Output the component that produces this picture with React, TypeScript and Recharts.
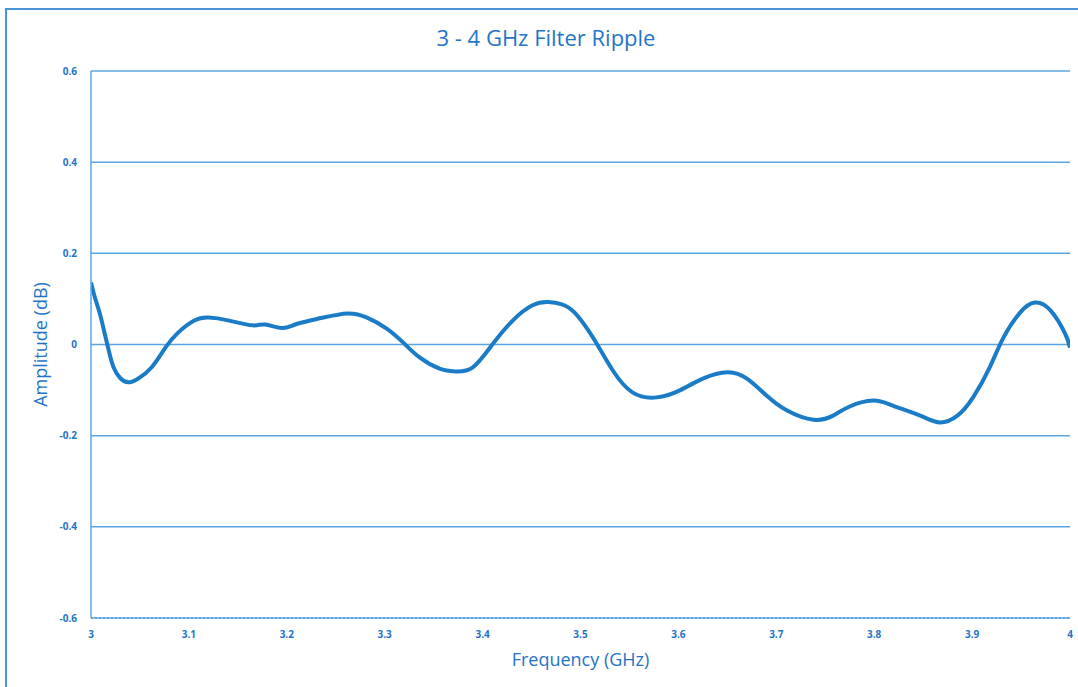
import React from "react";
import { LineChart, Line, XAxis, YAxis, CartesianGrid } from "recharts";

const frequencies = [
  3.0, 3.004, 3.009, 3.014, 3.018, 3.023, 3.03, 3.038, 3.048, 3.062, 3.076, 3.089, 3.106,
  3.12, 3.14, 3.165, 3.178, 3.195, 3.21, 3.235, 3.262, 3.282, 3.302, 3.319, 3.336,
  3.356, 3.372, 3.39, 3.41, 3.431, 3.451, 3.467, 3.481, 3.494, 3.508, 3.519, 3.533,
  3.553, 3.578, 3.602, 3.625, 3.65, 3.67, 3.69, 3.711, 3.738, 3.758, 3.775, 3.799,
  3.819, 3.847, 3.867, 3.885, 3.901, 3.918, 3.932, 3.949, 3.964, 3.98, 3.995, 4.0,
];
const amplitudes = [
  0.136, 0.103, 0.068, 0.024, -0.012, -0.05, -0.074, -0.083, -0.075, -0.05, -0.007, 0.026, 0.053,
  0.059, 0.053, 0.042, 0.044, 0.036, 0.045, 0.058, 0.068, 0.059, 0.035, 0.004, -0.029,
  -0.053, -0.059, -0.05, 0.0, 0.053, 0.086, 0.093, 0.088, 0.07, 0.031, -0.007, -0.057,
  -0.105, -0.116, -0.1, -0.075, -0.061, -0.075, -0.112, -0.145, -0.165, -0.156, -0.136, -0.123,
  -0.134, -0.156, -0.171, -0.156, -0.116, -0.05, 0.015, 0.07, 0.092, 0.075, 0.024, -0.007,
];
const xTicks = [3, 3.1, 3.2, 3.3, 3.4, 3.5, 3.6, 3.7, 3.8, 3.9, 4];
const yTicks = [-0.6, -0.4, -0.2, 0, 0.2, 0.4, 0.6];

const data = frequencies.map((f, i) => ({ f, a: amplitudes[i] }));

const BLUE = "#1f74c8";
const GRID = "#5aa5e2";
const FONT = "'Open Sans', 'Noto Sans', sans-serif";

export default function App() {
  return (
    <div
      style={{
        position: "absolute",
        left: 0,
        top: 0,
        width: 1078,
        height: 687,
        background: "#fff",
        fontFamily: FONT,
        overflow: "hidden",
      }}
    >
      <div
        style={{
          position: "absolute",
          left: 5,
          top: 8,
          width: 1100,
          height: 700,
          borderLeft: "2px solid #4a95da",
          borderTop: "2px solid #4a95da",
        }}
      />
      <div
        style={{
          position: "absolute",
          left: 0,
          width: 1092,
          top: 22,
          textAlign: "center",
          color: BLUE,
          fontSize: 22,
          lineHeight: "30px",
        }}
      >
        3 - 4 GHz Filter Ripple
      </div>
      <div style={{ position: "absolute", left: 0, top: 0 }}>
        <LineChart
          width={1078}
          height={687}
          data={data}
          margin={{ top: 71, right: 8, bottom: 0, left: 0 }}
        >
          <CartesianGrid vertical={false} stroke={GRID} strokeWidth={1.5} />
          <XAxis
            type="number"
            dataKey="f"
            domain={[3, 4]}
            ticks={xTicks}
            allowDataOverflow
            height={69}
            tickSize={0}
            tickMargin={13}
            tickFormatter={(v: number) => String(v)}
            axisLine={{ stroke: GRID, strokeWidth: 2, strokeDasharray: "2 2" }}
            tick={{ fill: BLUE, fontSize: 10, fontWeight: 700, fontFamily: FONT }}
            label={{
              value: "Frequency (GHz)",
              position: "center",
              dy: 7,
              fill: BLUE,
              fontSize: 18,
              fontFamily: FONT,
            }}
          />
          <YAxis
            type="number"
            domain={[-0.6, 0.6]}
            ticks={yTicks}
            allowDataOverflow
            width={91}
            tickSize={0}
            tickMargin={14}
            tickFormatter={(v: number) => String(v)}
            axisLine={{ stroke: GRID, strokeWidth: 1.5 }}
            tick={{ fill: BLUE, fontSize: 10, fontWeight: 700, fontFamily: FONT }}
            label={{
              value: "Amplitude (dB)",
              position: "center",
              angle: -90,
              dx: -5,
              fill: BLUE,
              fontSize: 18,
              fontFamily: FONT,
            }}
          />
          <Line
            type="natural"
            dataKey="a"
            stroke="#1a7cc6"
            strokeWidth={4}
            dot={false}
            isAnimationActive={false}
          />
        </LineChart>
      </div>
    </div>
  );
}
